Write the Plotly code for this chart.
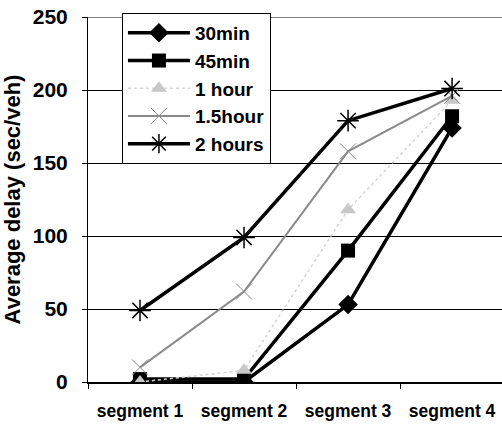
import plotly.graph_objects as go

categories = ["segment 1", "segment 2", "segment 3", "segment 4"]
s30 = [0, 0, 53, 174]
s45 = [2, 2, 90, 182]
s60 = [0, 8, 118, 193]
s90 = [10, 62, 158, 196]
s120 = [49, 99, 179, 201]

fig = go.Figure()
fig.add_trace(go.Scatter(x=categories, y=s30, name="30min", mode="lines+markers",
                         line=dict(color="black", width=3.5),
                         marker=dict(symbol="diamond", size=15, color="black")))
fig.add_trace(go.Scatter(x=categories, y=s45, name="45min", mode="lines+markers",
                         line=dict(color="black", width=3.5),
                         marker=dict(symbol="square", size=14, color="black")))
fig.add_trace(go.Scatter(x=categories, y=s60, name="1 hour", mode="lines+markers",
                         line=dict(color="#d4d4d4", width=1.5, dash="dot"),
                         marker=dict(symbol="triangle-up", size=14, color="#c8c8c8")))
fig.add_trace(go.Scatter(x=categories, y=s90, name="1.5hour", mode="lines+markers",
                         line=dict(color="#8a8a8a", width=2),
                         marker=dict(symbol="x-thin-open", size=16, color="#8a8a8a", line=dict(width=1, color="#8a8a8a"))))
fig.add_trace(go.Scatter(x=categories, y=s120, name="2 hours", mode="lines+markers",
                         line=dict(color="black", width=3.5),
                         marker=dict(symbol="asterisk-open", size=18, color="black", line=dict(width=1.5, color="black"))))

font = "Liberation Sans, Arial, sans-serif"
fig.update_layout(
    width=502, height=425,
    margin=dict(l=88, r=0, t=17, b=43),
    paper_bgcolor="white", plot_bgcolor="white",
    font=dict(family=font, color="black"),
    showlegend=True,
    legend=dict(x=0.082, y=1.011, xanchor="left", yanchor="top",
                bgcolor="white", bordercolor="black", borderwidth=1,
                font=dict(size=19, family=font, color="black", weight="bold"),
                itemwidth=62, tracegroupgap=0),
    xaxis=dict(range=[-0.5, 3.48], showgrid=False, showline=True, linecolor="black",
               linewidth=2, ticks="outside", tickson="boundaries", ticklen=5, tickcolor="black",
               tickfont=dict(size=17.5, weight="bold"), ticklabelstandoff=12,
               zeroline=False),
    yaxis=dict(range=[0, 250], dtick=50, showgrid=True, gridcolor="black", gridwidth=1,
               showline=True, linecolor="black", linewidth=1, ticks="outside", ticklen=5,
               tickcolor="black", tickfont=dict(size=21, weight="bold"), zeroline=False,
               ticklabelstandoff=10,
               title=dict(text="Average delay (sec/veh)", font=dict(size=22, weight="bold"), standoff=10)),
    shapes=[dict(type="line", xref="paper", yref="y", x0=0, x1=1, y0=250, y1=250,
                 line=dict(color="black", width=1), layer="below")],
)
fig.write_html("out.html")
